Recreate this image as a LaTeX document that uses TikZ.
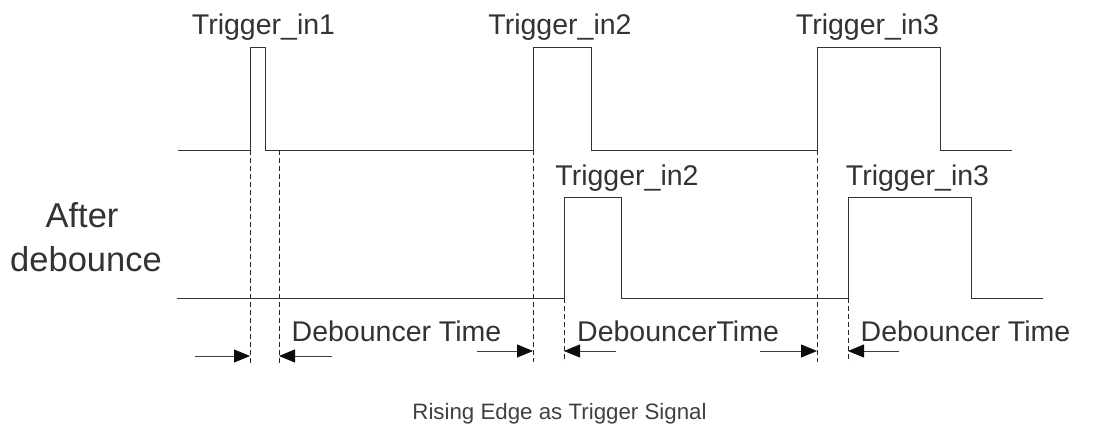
\documentclass[tikz,border=0pt]{standalone}
\usepackage{fontspec}
\setmainfont{Liberation Sans}
\usetikzlibrary{arrows.meta}
\tikzset{
  wave/.style={draw=black!80, line width=0.9pt, line join=miter},
  guide/.style={draw=black!85, line width=0.7pt, dash pattern=on 5pt off 3pt},
  darrow/.style={draw=black!75, line width=0.8pt, -{Triangle[length=16pt,width=13pt,color=black!95]}},
  lbl/.style={inner sep=0pt, anchor=base, text=black!80, font=\fontsize{28.5}{30}\selectfont},
  sidelbl/.style={inner sep=0pt, anchor=base, text=black!80, font=\fontsize{34.5}{36}\selectfont},
  caplbl/.style={inner sep=0pt, anchor=base, text=black!75, font=\fontsize{22.3}{24}\selectfont}
}
\begin{document}
\begin{tikzpicture}[x=1pt,y=-1pt]
\useasboundingbox (0,0) rectangle (1098,427);
% waveforms
\draw[wave] (178,150) -- (250,150) -- (250,47) -- (265,47) -- (265,150) -- (533,150) -- (533,47) -- (591,47) -- (591,150) -- (817,150) -- (817,47) -- (940,47) -- (940,150) -- (1012,150);
\draw[wave] (177,298) -- (564,298) -- (564,197) -- (621,197) -- (621,298) -- (848,298) -- (848,197) -- (971,197) -- (971,298) -- (1043,298);
% guide lines
\coordinate (g1t) at (250,150); \coordinate (g1b) at (250,365);
\coordinate (g2t) at (279,150); \coordinate (g2b) at (279,365);
\coordinate (g3t) at (533,150); \coordinate (g3b) at (533,362);
\coordinate (g4t) at (564,298); \coordinate (g4b) at (564,362);
\coordinate (g5t) at (817,150); \coordinate (g5b) at (817,362);
\coordinate (g6t) at (848,298); \coordinate (g6b) at (848,362);
\draw[guide] (g1t) -- (g1b);
\draw[guide] (g2t) -- (g2b);
\draw[guide] (g3t) -- (g3b);
\draw[guide] (g4t) -- (g4b);
\draw[guide] (g5t) -- (g5b);
\draw[guide] (g6t) -- (g6b);
% arrows
\coordinate (a1s) at (195,356); \coordinate (a1e) at (250,356);
\coordinate (a2s) at (332,356); \coordinate (a2e) at (279,356);
\coordinate (a3s) at (477,351); \coordinate (a3e) at (533,351);
\coordinate (a4s) at (616,351); \coordinate (a4e) at (564,351);
\coordinate (a5s) at (760,351); \coordinate (a5e) at (817,351);
\coordinate (a6s) at (899,351); \coordinate (a6e) at (848,351);
\draw[darrow] (a1s) -- (a1e);
\draw[darrow] (a2s) -- (a2e);
\draw[darrow] (a3s) -- (a3e);
\draw[darrow] (a4s) -- (a4e);
\draw[darrow] (a5s) -- (a5e);
\draw[darrow] (a6s) -- (a6e);
% labels
\node[lbl] (t1) at (263.5,35) {Trigger\_in1};
\node[lbl] (t2) at (560,35) {Trigger\_in2};
\node[lbl] (t3) at (867.5,35) {Trigger\_in3};
\node[lbl] (b2) at (627,186) {Trigger\_in2};
\node[lbl] (b3) at (917.5,186) {Trigger\_in3};
\node[lbl, anchor=base west] (d1) at (291.5,342) {Debouncer Time};
\node[lbl, anchor=base west] (d2) at (577,342) {DebouncerTime};
\node[lbl, anchor=base west] (d3) at (860.5,342) {Debouncer Time};
\node[sidelbl] (after) at (82,228) {After};
\node[sidelbl] (deb) at (86,272) {debounce};
\node[caplbl] (cap) at (559.5,420) {Rising Edge as Trigger Signal};
\end{tikzpicture}
\end{document}
